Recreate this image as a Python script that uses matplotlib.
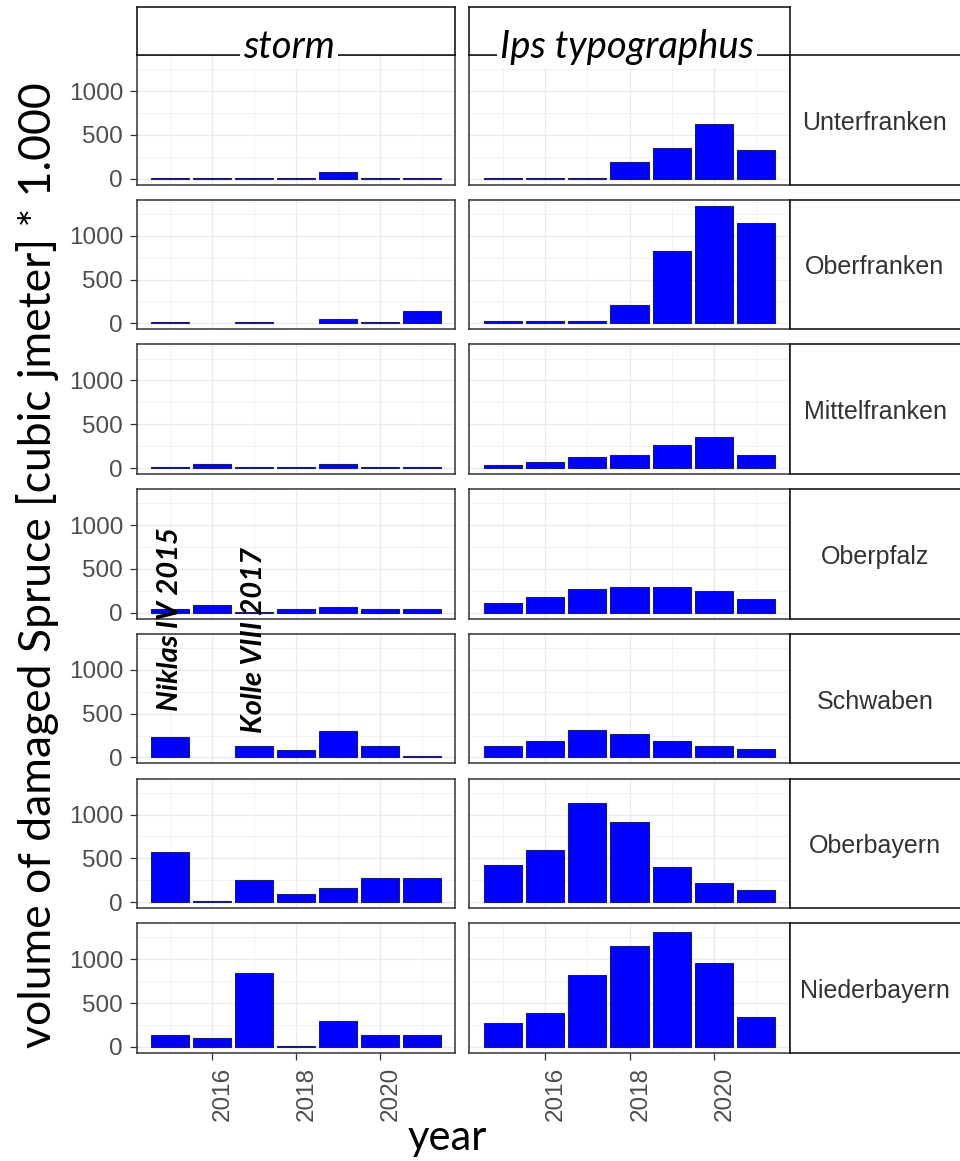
import numpy as np
import matplotlib
matplotlib.use("Agg")
import matplotlib.pyplot as plt

# --- data (values in 1.000 cubic metres) ---
years = [2015, 2016, 2017, 2018, 2019, 2020, 2021]
regions = ["Unterfranken", "Oberfranken", "Mittelfranken", "Oberpfalz",
           "Schwaben", "Oberbayern", "Niederbayern"]
causes = ["storm", "Ips typographus"]

nan = np.nan
storm_unterfranken = [12, 12, 12, 12, 70, 12, 12]
storm_oberfranken = [12, nan, 12, nan, 50, 12, 140]
storm_mittelfranken = [15, 50, 12, 12, 50, 12, 12]
storm_oberpfalz = [45, 85, 10, 45, 65, 40, 40]
storm_schwaben = [234, nan, 125, 84, 302, 125, 12]
storm_oberbayern = [567, 15, 252, 97, 160, 271, 271]
storm_niederbayern = [137, 95, 844, 10, 296, 137, 137]

ips_unterfranken = [12, 12, 12, 193, 352, 625, 330]
ips_oberfranken = [30, 30, 30, 208, 830, 1344, 1143]
ips_mittelfranken = [40, 64, 130, 153, 265, 355, 153]
ips_oberpfalz = [110, 177, 268, 290, 290, 245, 155]
ips_schwaben = [136, 182, 318, 273, 182, 136, 91]
ips_oberbayern = [422, 600, 1133, 911, 400, 222, 133]
ips_niederbayern = [270, 383, 815, 1156, 1315, 952, 338]

storm = [storm_unterfranken, storm_oberfranken, storm_mittelfranken, storm_oberpfalz,
         storm_schwaben, storm_oberbayern, storm_niederbayern]
ips = [ips_unterfranken, ips_oberfranken, ips_mittelfranken, ips_oberpfalz,
       ips_schwaben, ips_oberbayern, ips_niederbayern]

# storm events annotated in the Schwaben storm panel
events = ["Niklas IV 2015", "Kolle VIII 2017"]
event_years = [2015, 2017]
event_bottoms = [530, 280]

# --- layout in pixels ---
W, H = 960, 1161
fig = plt.figure(figsize=(W / 100, H / 100), dpi=100)
fig.patch.set_facecolor("white")


def box(x0, y0, x1, y1):
    return [x0 / W, 1 - y1 / H, (x1 - x0) / W, (y1 - y0) / H]


col_x = [(137, 455), (469, 790)]
top0, pitch, ph = 55, 144.7, 129.5
strip_right = (790, 985)

sans = "Liberation Sans"
cal = "Lato"
grey_txt = "#4d4d4d"

ymax = np.nanmax(ips + storm)
ylim = (-0.05 * ymax, 1.05 * ymax)

for r, reg in enumerate(regions):
    y0 = top0 + r * pitch
    y1 = y0 + ph
    for c, vals in enumerate([storm[r], ips[r]]):
        ax = fig.add_axes(box(col_x[c][0], y0, col_x[c][1], y1))
        ax.bar(years, vals, width=0.9, color="#0000ff", edgecolor="#1c1c6e",
               linewidth=0.8, zorder=3)
        ax.set_xlim(2014.205, 2021.795)
        ax.set_ylim(*ylim)
        ax.set_xticks([2016, 2018, 2020])
        ax.set_xticks([2015, 2017, 2019, 2021], minor=True)
        ax.set_yticks([0, 500, 1000])
        ax.set_yticks([250, 750, 1250], minor=True)
        ax.grid(True, which="major", color="#ebebeb", linewidth=1.0, zorder=0)
        ax.grid(True, which="minor", color="#f0f0f0", linewidth=0.6, zorder=0)
        ax.set_axisbelow(True)
        for s in ax.spines.values():
            s.set_color("#333333")
            s.set_linewidth(1.1)
        ax.tick_params(which="minor", length=0)
        ax.tick_params(which="major", length=5, width=0.9, color="#333333",
                       labelcolor=grey_txt, labelsize=17.5, pad=5)
        for lab in ax.get_xticklabels() + ax.get_yticklabels():
            lab.set_family(sans)
        if c == 1:
            ax.tick_params(axis="y", left=False, labelleft=False)
        if r < len(regions) - 1:
            ax.tick_params(axis="x", bottom=False, labelbottom=False)
        else:
            for lab in ax.get_xticklabels():
                lab.set_rotation(90)
                lab.set_ha("left")
                lab.set_va("top")
        if c == 0 and reg == "Schwaben":
            for name, yr, yb in zip(events, event_years, event_bottoms):
                ax.text(yr, yb, name, rotation=90, ha="center", va="bottom",
                        family=cal, fontweight="bold", style="italic",
                        fontsize=21, color="black", clip_on=False, zorder=10)

    # right strip with region name
    sax = fig.add_axes(box(strip_right[0], y0, strip_right[1], y1))
    sax.set_xticks([])
    sax.set_yticks([])
    for s in sax.spines.values():
        s.set_color("#1a1a1a")
        s.set_linewidth(1.2)
    fig.text(875 / W, 1 - (y0 + ph / 2 + 3) / H, reg, ha="center", va="center",
             family=sans, fontsize=18, color="#333333")

# top strips
title_pos = [0.478, 0.492]
for c, name in enumerate(causes):
    tax = fig.add_axes(box(col_x[c][0], 7, col_x[c][1], top0))
    tax.set_xticks([])
    tax.set_yticks([])
    for s in tax.spines.values():
        s.set_color("#1a1a1a")
        s.set_linewidth(1.2)
    x0, x1 = col_x[c]
    fig.text((x0 + title_pos[c] * (x1 - x0)) / W, 1 - 58 / H, name,
             ha="center", va="baseline", family=cal, style="italic",
             fontsize=27.5, color="black",
             bbox=dict(facecolor="white", edgecolor="none", pad=2))

fig.text(38 / W, 1 - 565 / H, "volume of damaged Spruce [cubic jmeter] * 1.000",
         rotation=90, ha="center", va="center", family=cal, fontsize=32,
         color="black")
fig.text(447 / W, 1 - 1150 / H, "year", ha="center", va="baseline",
         family=cal, fontsize=30, color="black")

fig.savefig("out.png", dpi=100, facecolor="white")
